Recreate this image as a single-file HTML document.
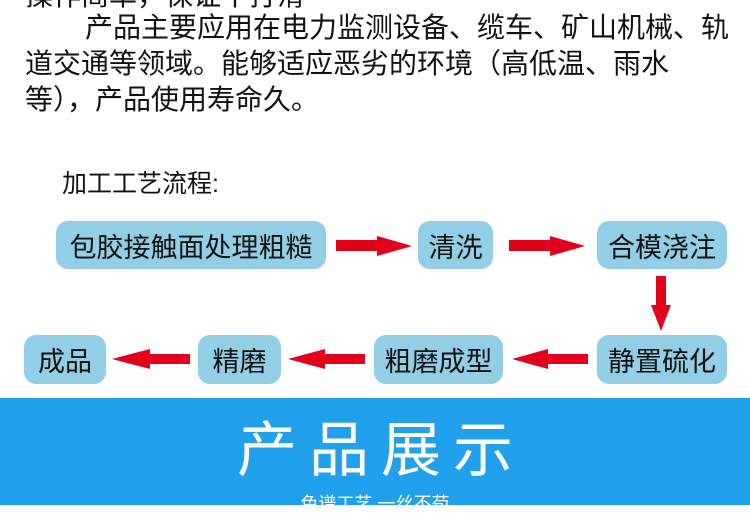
<!DOCTYPE html>
<html><head><meta charset="utf-8"><style>
body{margin:0;width:750px;height:505px;overflow:hidden;background:#fff;position:relative;font-family:"Liberation Sans","Noto Sans CJK SC",sans-serif;color:#111}
.t{position:absolute;white-space:nowrap;font-size:28px;line-height:36px}
.b{position:absolute;background:#92cfe7;border-radius:12px;font-size:27px;display:flex;align-items:center;justify-content:center;color:#111}
svg{position:absolute;left:0;top:0}
</style></head><body>
<div class="t" style="left:25px;top:-22px">操作简单，保证不打滑</div>
<div class="t" style="left:85px;top:10px">产品主要应用在电力监测设备、缆车、矿山机械、轨</div>
<div class="t" style="left:25px;top:46px">道交通等领域。能够适应恶劣的环境（高低温、雨水</div>
<div class="t" style="left:25px;top:82px">等），产品使用寿命久。</div>
<div class="t" style="left:62px;top:166px;font-size:25px">加工工艺流程:</div>
<div class="b" style="left:56px;top:221px;width:270px;height:48px">包胶接触面处理粗糙</div>
<div class="b" style="left:418px;top:221px;width:75px;height:48px">清洗</div>
<div class="b" style="left:597px;top:221px;width:130px;height:48px">合模浇注</div>
<div class="b" style="left:24px;top:335px;width:82px;height:49px">成品</div>
<div class="b" style="left:198px;top:335px;width:83px;height:49px">精磨</div>
<div class="b" style="left:374px;top:335px;width:129px;height:49px">粗磨成型</div>
<div class="b" style="left:597px;top:335px;width:130px;height:49px">静置硫化</div>
<svg width="750" height="505" fill="#e3001b">
<polygon points="336,240 377,240 377,236 412,246 377,256 377,251 336,251"/>
<polygon points="509,240 550,240 550,236 585,246 550,256 550,251 509,251"/>
<polygon points="656,276 666,276 666,305 671,305 661,331 651,305 656,305"/>
<polygon points="588,354 548,354 548,349 512,359 548,369 548,364 588,364"/>
<polygon points="365,354 325,354 325,349 288,359 325,369 325,364 365,364"/>
<polygon points="190,354 150,354 150,349 112,359 150,369 150,364 190,364"/>
</svg>
<div style="position:absolute;left:0;top:398px;width:750px;height:107px;background:#21a0ec"></div>
<div class="t" style="left:6px;width:750px;text-align:center;top:418px;font-size:60px;line-height:66px;color:#fff;letter-spacing:12px">产品展示</div>
<div class="t" style="left:0;width:750px;text-align:center;top:492px;font-size:18px;line-height:24px;color:#fff">色谱工艺 一丝不苟</div>
</body></html>
